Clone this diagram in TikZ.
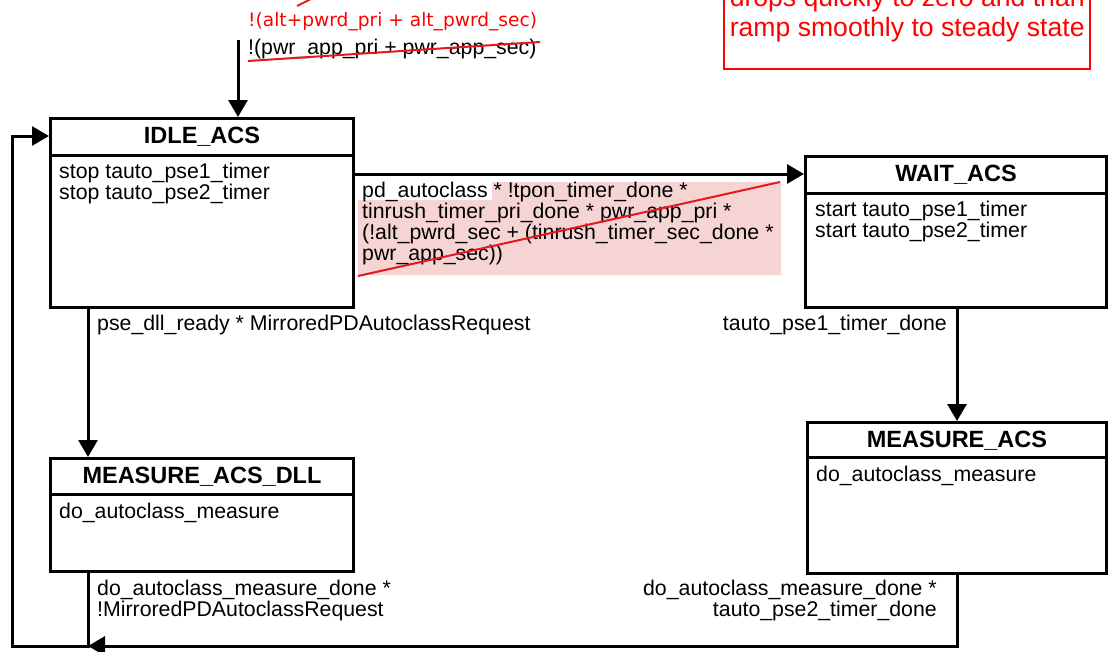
\documentclass[tikz,border=0pt]{standalone}
\usepackage{fontspec}
\setmainfont{Liberation Sans}
\newfontfamily\notefont{DejaVu Sans}
\usetikzlibrary{arrows.meta,calc}

\definecolor{strikered}{RGB}{228,24,30}
\definecolor{notered}{RGB}{255,0,0}
\definecolor{hilite}{RGB}{246,212,212}

% multi-line nodes below are placed by the baseline of their last line
\tikzset{
  statebox/.style={draw, line width=3pt, inner sep=0pt, anchor=north west},
  sep/.style={line width=3pt},
  title/.style={font=\fontsize{23.5}{24}\selectfont\bfseries, inner sep=0pt, anchor=base},
  body/.style={font=\fontsize{21.3}{21}\selectfont, inner sep=0pt, align=left, anchor=base west},
  lbl/.style={font=\fontsize{21.3}{21}\selectfont, inner sep=0pt, anchor=base west, align=left},
  lblr/.style={font=\fontsize{21.3}{21}\selectfont, inner sep=0pt, anchor=base east, align=right},
  trans/.style={line width=3pt, -{Triangle[length=17pt,width=19pt]}},
  strike/.style={draw=strikered, line width=2pt},
  redlbl/.style={font=\notefont\fontsize{18.6}{20}\selectfont, text=notered, inner sep=0pt, anchor=base west},
  note/.style={draw=notered, line width=2.4pt, text=notered, align=center,
    font=\fontsize{26.6}{29.5}\selectfont, inner sep=0pt}
}

\begin{document}
\begin{tikzpicture}[x=1pt,y=-1pt]
\useasboundingbox (0,0) rectangle (1108,651);
\clip (0,0) rectangle (1108,651);

% states
\node[statebox, minimum width=303pt, minimum height=189pt] (idle) at (49,117) {};
\node[statebox, minimum width=301pt, minimum height=151pt] (wait) at (804,155) {};
\node[statebox, minimum width=299pt, minimum height=151pt] (meas) at (806,421) {};
\node[statebox, minimum width=303pt, minimum height=113pt] (dll) at (49,457) {};

% header separators
\draw[sep] ($(idle.north west)+(0,38)$) -- ($(idle.north east)+(0,38)$);
\draw[sep] ($(wait.north west)+(0,38)$) -- ($(wait.north east)+(0,38)$);
\draw[sep] ($(meas.north west)+(0,36)$) -- ($(meas.north east)+(0,36)$);
\draw[sep] ($(dll.north west)+(0,37)$) -- ($(dll.north east)+(0,37)$);

% titles
\node[title] (idleT) at ($(idle.north)+(0,26)$) {IDLE\_ACS};
\node[title] (waitT) at ($(wait.north)+(0,26)$) {WAIT\_ACS};
\node[title] (measT) at ($(meas.north)+(0,26)$) {MEASURE\_ACS};
\node[title] (dllT) at ($(dll.north)+(0,26)$) {MEASURE\_ACS\_DLL};

% state actions
\node[body] (idleB) at ($(idle.north west)+(10,82)$) {stop tauto\_pse1\_timer\\stop tauto\_pse2\_timer};
\node[body] (waitB) at ($(wait.north west)+(11,82)$) {start tauto\_pse1\_timer\\start tauto\_pse2\_timer};
\node[body] (measB) at ($(meas.north west)+(10,60)$) {do\_autoclass\_measure};
\node[body] (dllB) at ($(dll.north west)+(10,61)$) {do\_autoclass\_measure};

% entry transition
\coordinate (entry) at (238,40);
\draw[trans] (entry) -- (idle.north -| entry);
\node[redlbl] (entryR) at (248,26) {!(alt+pwrd\_pri + alt\_pwrd\_sec)};
\node[lbl] (entryL) at (248,54) {!(pwr\_app\_pri + pwr\_app\_sec)};
\draw[strike] (248,61) coordinate (s1) -- (540,42) coordinate (s2);
\draw[strike] (297,6) -- (313,-2);

% IDLE -> WAIT
\coordinate (iw) at (0,174);
\fill[hilite] (492,182) -- (781,182) -- (781,275) -- (358,275) -- (358,200) -- (492,200) -- cycle;
\draw[trans] (idle.east |- iw) -- (wait.west |- iw);
\node[lbl] (iwL) at (362,260) {pd\_autoclass * !tpon\_timer\_done *\\tinrush\_timer\_pri\_done * pwr\_app\_pri *\\(!alt\_pwrd\_sec + (tinrush\_timer\_sec\_done *\\pwr\_app\_sec))};
\draw[strike] (358,276) -- (780,182);

% IDLE -> MEASURE_ACS_DLL
\coordinate (xl) at (88,0);
\draw[trans] (idle.south -| xl) -- (dll.north -| xl);
\node[lbl] (idL) at (97,330) {pse\_dll\_ready * MirroredPDAutoclassRequest};

% WAIT -> MEASURE_ACS
\coordinate (xr) at (957,0);
\draw[trans] (wait.south -| xr) -- (meas.north -| xr);
\node[lblr] (wmL) at (947,330) {tauto\_pse1\_timer\_done};

% MEASURE_ACS_DLL -> IDLE
\coordinate (bl) at (88,646);
\coordinate (cl) at (12,646);
\coordinate (tl) at (12,136);
\draw[trans] (dll.south -| xl) -- (bl) -- (cl) -- (tl) -- (idle.west |- tl);
\node[lbl] (dlL) at (97,616) {do\_autoclass\_measure\_done *\\!MirroredPDAutoclassRequest};

% MEASURE_ACS -> IDLE (joins the return path)
\coordinate (br) at (957,646);
\draw[trans] (meas.south -| xr) -- (br) -- (bl);
\node[lblr] (mlL) at (937,616) {do\_autoclass\_measure\_done *\\tauto\_pse2\_timer\_done};

% annotation
\node[note, minimum width=366pt, minimum height=130pt, anchor=south west] (noteBox) at (723,70) {};
\node[note, draw=none, anchor=base] (noteT) at ($(noteBox.south)+(0,-34)$) {drops quickly to zero and than\\ramp smoothly to steady state};
\end{tikzpicture}
\end{document}
